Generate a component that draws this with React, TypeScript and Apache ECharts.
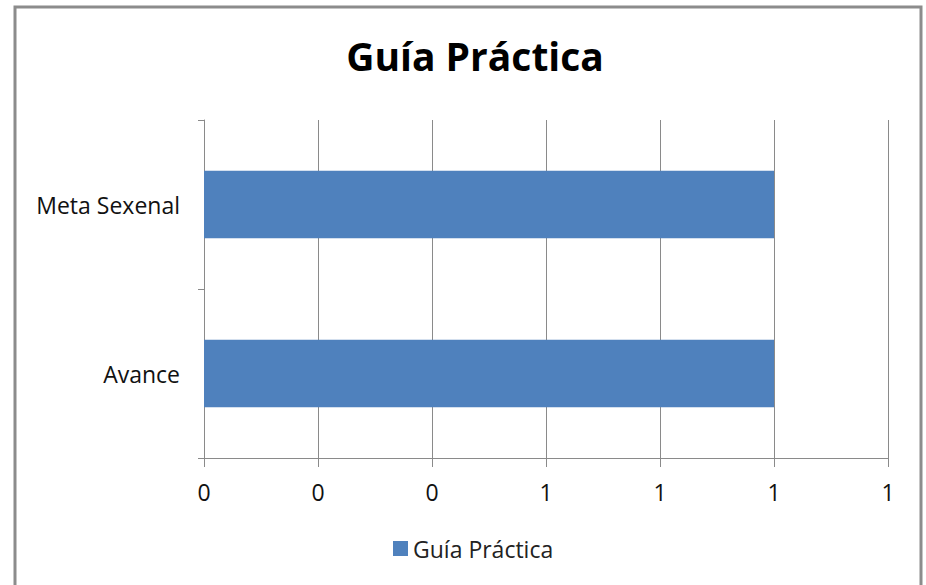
import React, { useEffect, useRef } from "react";
import * as echarts from "echarts";

const categories = ["Avance", "Meta Sexenal"];
const seriesName = "Guía Práctica";
const values = [1, 1];
const xMax = 1.2;
const xInterval = 0.2;

const FONT = "'Open Sans', Lato, sans-serif";

export default function App() {
  const ref = useRef<HTMLDivElement>(null);
  useEffect(() => {
    if (!ref.current) return;
    const chart = echarts.init(ref.current, null, { renderer: "svg" });
    chart.setOption({
      animation: false,
      backgroundColor: "#ffffff",
      title: {
        text: "Guía Práctica",
        left: 470,
        textAlign: "center",
        top: 31,
        textStyle: { fontFamily: FONT, fontSize: 39, fontWeight: "bold", color: "#000000" },
      },
      legend: {
        data: [seriesName],
        bottom: 20,
        left: 388,
        icon: "rect",
        itemWidth: 15,
        itemHeight: 15,
        itemGap: 6,
        textStyle: { fontFamily: FONT, fontSize: 23, color: "#222222" },
      },
      grid: { left: 204, right: 38, top: 120, bottom: 127, containLabel: false },
      xAxis: {
        type: "value",
        min: 0,
        max: xMax,
        interval: xInterval,
        axisLine: { show: true, lineStyle: { color: "#8a8a8a", width: 1 } },
        axisTick: { show: true, length: 9, lineStyle: { color: "#8a8a8a" } },
        splitLine: { show: true, lineStyle: { color: "#8a8a8a", width: 1 } },
        axisLabel: {
          fontFamily: FONT,
          fontSize: 23,
          color: "#111111",
          margin: 22,
          formatter: (v: number) => String(Math.round(v)),
        },
      },
      yAxis: {
        type: "category",
        data: categories,
        axisLine: { show: true, lineStyle: { color: "#8a8a8a", width: 1 } },
        axisTick: { show: true, length: 6, lineStyle: { color: "#8a8a8a" } },
        axisLabel: {
          fontFamily: FONT,
          fontSize: 23,
          color: "#111111",
          margin: 24,
          padding: [0, 0, 5, 0],
        },
      },
      series: [
        {
          name: seriesName,
          type: "bar",
          data: values,
          barWidth: "40%",
          itemStyle: { color: "#4f81bd" },
        },
      ],
      graphic: [
        {
          type: "rect",
          silent: true,
          z: 100,
          shape: { x: 15, y: 7, width: 906, height: 600 },
          style: { fill: "none", stroke: "#8c8c8c", lineWidth: 3 },
        },
      ],
    });
    return () => chart.dispose();
  }, []);
  return (
    <div
      ref={ref}
      style={{ position: "absolute", left: 0, top: 0, width: 926, height: 585 }}
    />
  );
}
